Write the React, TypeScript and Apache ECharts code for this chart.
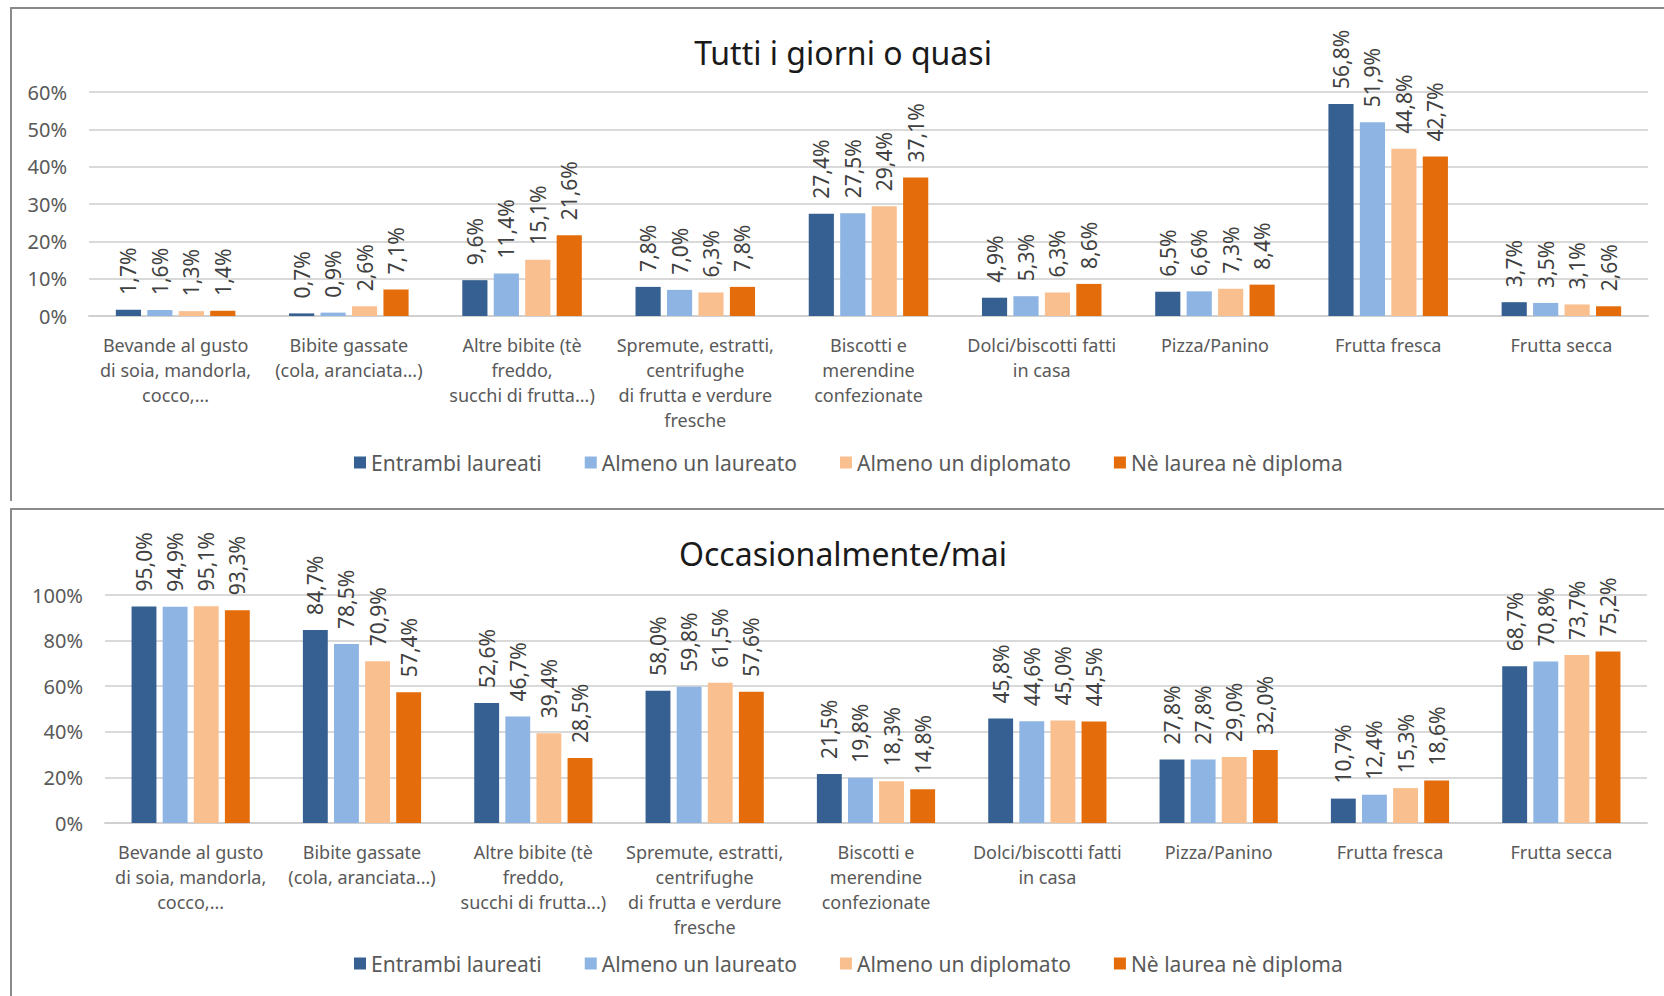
import React, { useEffect, useRef } from "react";
import * as echarts from "echarts";

const categories = [
  "Bevande al gusto\ndi soia, mandorla,\ncocco,...",
  "Bibite gassate\n(cola, aranciata...)",
  "Altre bibite (tè\nfreddo,\nsucchi di frutta...)",
  "Spremute, estratti,\ncentrifughe\ndi frutta e verdure\nfresche",
  "Biscotti e\nmerendine\nconfezionate",
  "Dolci/biscotti fatti\nin casa",
  "Pizza/Panino",
  "Frutta fresca",
  "Frutta secca",
];

const seriesNames = [
  "Entrambi laureati",
  "Almeno un laureato",
  "Almeno un diplomato",
  "Nè laurea nè diploma",
];

const titleDaily = "Tutti i giorni o quasi";
const titleOccasional = "Occasionalmente/mai";

// Tutti i giorni o quasi
const dailyEntrambi = [1.7, 0.7, 9.6, 7.8, 27.4, 4.9, 6.5, 56.8, 3.7];
const dailyAlmenoLaureato = [1.6, 0.9, 11.4, 7.0, 27.5, 5.3, 6.6, 51.9, 3.5];
const dailyAlmenoDiplomato = [1.3, 2.6, 15.1, 6.3, 29.4, 6.3, 7.3, 44.8, 3.1];
const dailyNessuno = [1.4, 7.1, 21.6, 7.8, 37.1, 8.6, 8.4, 42.7, 2.6];

// Occasionalmente/mai
const occEntrambi = [95.0, 84.7, 52.6, 58.0, 21.5, 45.8, 27.8, 10.7, 68.7];
const occAlmenoLaureato = [94.9, 78.5, 46.7, 59.8, 19.8, 44.6, 27.8, 12.4, 70.8];
const occAlmenoDiplomato = [95.1, 70.9, 39.4, 61.5, 18.3, 45.0, 29.0, 15.3, 73.7];
const occNessuno = [93.3, 57.4, 28.5, 57.6, 14.8, 44.5, 32.0, 18.6, 75.2];

const dailyMax = 60;
const dailyStep = 10;
const occMax = 100;
const occStep = 20;

const colors = ["#366092", "#8DB4E2", "#FABF8F", "#E46C0A"];
const FONT = "'Noto Sans', 'Open Sans', sans-serif";

export default function App() {
  const ref = useRef<HTMLDivElement>(null);

  useEffect(() => {
    if (!ref.current) return;
    const chart = echarts.init(ref.current, undefined, { renderer: "svg" });

    const dailyData = [dailyEntrambi, dailyAlmenoLaureato, dailyAlmenoDiplomato, dailyNessuno];
    const occData = [occEntrambi, occAlmenoLaureato, occAlmenoDiplomato, occNessuno];

    const fmt = (p: any) => Number(p.value).toFixed(1).replace(".", ",") + "%";

    const makeSeries = (data: number[][], gridIdx: number) =>
      data.map((vals, i) => ({
        name: seriesNames[i],
        type: "bar",
        xAxisIndex: gridIdx,
        yAxisIndex: gridIdx,
        data: vals,
        barGap: "25%",
        barCategoryGap: "31%",
        itemStyle: { color: colors[i] },
        label: {
          show: true,
          position: "top",
          rotate: 90,
          align: "left",
          verticalAlign: "middle",
          distance: 15,
          formatter: fmt,
          color: "#404040",
          fontSize: 21,
          fontFamily: FONT,
        },
      }));

    const xAxisCommon = {
      type: "category",
      data: categories,
      axisTick: { show: false },
      axisLine: { show: true, lineStyle: { color: "#d0d0d0", width: 2 } },
      axisLabel: {
        interval: 0,
        color: "#595959",
        fontSize: 18,
        fontFamily: FONT,
        lineHeight: 25,
        margin: 16,
        align: "center",
      },
    };

    const yAxisCommon = {
      type: "value",
      min: 0,
      axisLine: { show: false },
      axisTick: { show: false },
      splitLine: { lineStyle: { color: "#d9d9d9", width: 2 } },
      axisLabel: {
        formatter: "{value}%",
        color: "#595959",
        fontSize: 20,
        fontFamily: FONT,
        margin: 22,
      },
    };

    const legendCommon = {
      data: seriesNames,
      icon: "rect",
      itemWidth: 12,
      itemHeight: 12,
      itemGap: 43,
      left: 349,
      textStyle: {
        color: "#595959",
        fontSize: 21,
        fontFamily: FONT,
      },
      selectedMode: false,
    };

    const border = "#8a8a8a";

    chart.setOption({
      animation: false,
      backgroundColor: "#ffffff",
      title: [
        {
          text: titleDaily,
          left: 843,
          top: 36,
          padding: 0,
          textAlign: "center",
          textStyle: { fontSize: 32, fontWeight: "normal", color: "#1a1a1a", fontFamily: FONT },
        },
        {
          text: titleOccasional,
          left: 843,
          top: 537,
          padding: 0,
          textAlign: "center",
          textStyle: { fontSize: 32, fontWeight: "normal", color: "#1a1a1a", fontFamily: FONT },
        },
      ],
      legend: [
        { ...legendCommon, top: 447 },
        { ...legendCommon, top: 948 },
      ],
      grid: [
        { left: 89, right: 16, top: 92, height: 224, containLabel: false },
        { left: 105, right: 17, top: 595, height: 228, containLabel: false },
      ],
      xAxis: [
        { ...xAxisCommon, gridIndex: 0 },
        { ...xAxisCommon, gridIndex: 1 },
      ],
      yAxis: [
        { ...yAxisCommon, gridIndex: 0, max: dailyMax, interval: dailyStep },
        { ...yAxisCommon, gridIndex: 1, max: occMax, interval: occStep },
      ],
      series: [...makeSeries(dailyData, 0), ...makeSeries(occData, 1)],
      graphic: [
        { type: "line", shape: { x1: 10, y1: 8, x2: 1664, y2: 8 }, style: { stroke: border, lineWidth: 2 } },
        { type: "line", shape: { x1: 11, y1: 7, x2: 11, y2: 501 }, style: { stroke: border, lineWidth: 2 } },
        { type: "line", shape: { x1: 10, y1: 509, x2: 1664, y2: 509 }, style: { stroke: border, lineWidth: 2 } },
        { type: "line", shape: { x1: 11, y1: 508, x2: 11, y2: 996 }, style: { stroke: border, lineWidth: 2 } },
      ],
    });

    return () => chart.dispose();
  }, []);

  return (
    <div
      ref={ref}
      style={{ position: "absolute", left: 0, top: 0, width: 1664, height: 996 }}
    />
  );
}
